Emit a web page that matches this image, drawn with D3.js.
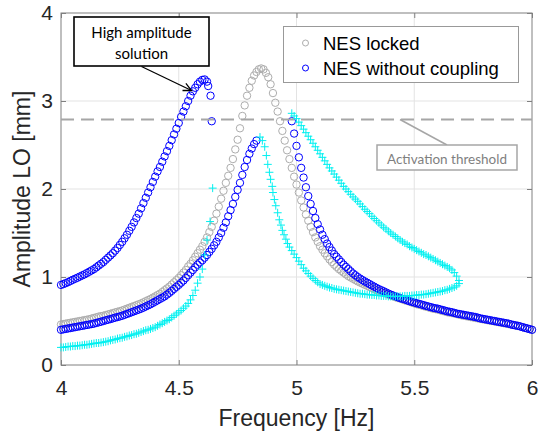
<!DOCTYPE html>
<html>
<head>
<meta charset="utf-8">
<script src="https://cdn.jsdelivr.net/npm/d3@7"></script>
<style>
  html, body { margin: 0; padding: 0; background: #fff; }
  svg { display: block; }
</style>
</head>
<body>
<svg id="chart" width="540" height="437"></svg>
<script>
// ---------------- DATA ----------------
const xTicks = [4, 4.5, 5, 5.5, 6];
const yTicks = [0, 1, 2, 3, 4];
const xLabel = "Frequency [Hz]";
const yLabel = "Amplitude LO [mm]";
const legendLabels = ["NES locked", "NES without coupling"];
const thresholdValue = 2.79;
const thresholdLabel = "Activation threshold";
const calloutLines = ["High amplitude", "solution"];

// NES locked (grey circles)  [frequency, amplitude]
const nesLocked = [
[4.00,.46],[4.01,.465],[4.02,.47],[4.03,.475],[4.04,.48],[4.05,.485],[4.06,.49],[4.07,.495],[4.08,.50],[4.09,.505],
[4.10,.51],[4.11,.515],[4.12,.52],[4.13,.528],[4.14,.535],[4.15,.542],[4.16,.55],[4.17,.555],[4.18,.56],[4.19,.568],
[4.20,.575],[4.21,.582],[4.22,.59],[4.23,.598],[4.24,.605],[4.25,.612],[4.26,.62],[4.27,.63],[4.28,.64],[4.29,.65],
[4.30,.66],[4.31,.67],[4.32,.68],[4.33,.69],[4.34,.70],[4.35,.712],[4.36,.725],[4.37,.738],[4.38,.75],[4.39,.765],
[4.40,.78],[4.41,.795],[4.42,.81],[4.43,.83],[4.44,.85],[4.45,.87],[4.46,.89],[4.47,.915],[4.48,.94],[4.49,.965],
[4.50,.99],[4.51,1.02],[4.52,1.05],[4.53,1.08],[4.54,1.12],[4.55,1.15],[4.56,1.19],[4.57,1.23],[4.58,1.27],[4.59,1.31],
[4.60,1.35],[4.61,1.40],[4.62,1.45],[4.63,1.51],[4.64,1.57],[4.65,1.64],[4.66,1.72],[4.67,1.80],[4.68,1.89],[4.69,1.98],
[4.70,2.07],[4.71,2.15],[4.72,2.24],[4.73,2.34],[4.74,2.45],[4.75,2.56],[4.76,2.69],[4.77,2.83],[4.78,2.95],[4.79,3.06],
[4.80,3.15],[4.81,3.23],[4.82,3.29],[4.83,3.33],[4.84,3.36],[4.85,3.37],[4.86,3.36],[4.87,3.32],[4.88,3.27],[4.89,3.19],
[4.90,3.09],[4.91,2.98],[4.92,2.88],[4.93,2.77],[4.94,2.66],[4.95,2.55],[4.96,2.44],[4.97,2.34],[4.98,2.24],[4.99,2.14],
[5.00,2.05],[5.01,1.96],[5.02,1.87],[5.03,1.79],[5.04,1.71],[5.05,1.64],[5.06,1.57],[5.07,1.51],[5.08,1.45],[5.09,1.40],
[5.10,1.35],[5.11,1.31],[5.12,1.27],[5.13,1.235],[5.14,1.20],[5.15,1.17],[5.16,1.14],[5.17,1.115],[5.18,1.09],[5.19,1.07],
[5.20,1.05],[5.21,1.03],[5.22,1.01],[5.23,.995],[5.24,.98],[5.25,.965],[5.26,.95],[5.27,.937],[5.28,.925],[5.29,.912],
[5.30,.90],[5.31,.887],[5.32,.875],[5.33,.862],[5.34,.85],[5.35,.84],[5.36,.83],[5.37,.82],[5.38,.81],[5.39,.80],
[5.40,.79],[5.41,.78],[5.42,.77],[5.43,.762],[5.44,.755],[5.45,.745],[5.46,.735],[5.47,.728],[5.48,.72],[5.49,.71],
[5.50,.70],[5.51,.692],[5.52,.685],[5.53,.678],[5.54,.67],[5.55,.662],[5.56,.655],[5.57,.648],[5.58,.64],[5.59,.635],
[5.60,.63],[5.61,.622],[5.62,.615],[5.63,.608],[5.64,.60],[5.65,.595],[5.66,.59],[5.67,.585],[5.68,.58],[5.69,.572],
[5.70,.565],[5.71,.56],[5.72,.555],[5.73,.55],[5.74,.545],[5.75,.54],[5.76,.535],[5.77,.53],[5.78,.525],[5.79,.52],
[5.80,.515],[5.81,.51],[5.82,.505],[5.83,.50],[5.84,.495],[5.85,.49],[5.86,.485],[5.87,.48],[5.88,.475],[5.89,.47],
[5.90,.465],[5.91,.46],[5.92,.455],[5.93,.45],[5.94,.445],[5.95,.438],[5.96,.43],[5.97,.422],[5.98,.415],[5.99,.408],[6.00,.40]
];

// NES without coupling (blue circles) - high amplitude branch
const nesFreeHigh = [
[4.00,.91],[4.01,.92],[4.02,.93],[4.03,.942],[4.04,.955],[4.05,.968],[4.06,.98],[4.07,.992],[4.08,1.005],[4.09,1.018],
[4.10,1.03],[4.11,1.045],[4.12,1.06],[4.13,1.075],[4.14,1.09],[4.15,1.11],[4.16,1.13],[4.17,1.15],[4.18,1.17],[4.19,1.195],
[4.20,1.22],[4.21,1.245],[4.22,1.27],[4.23,1.30],[4.24,1.33],[4.25,1.365],[4.26,1.40],[4.27,1.44],[4.28,1.48],[4.29,1.525],
[4.30,1.57],[4.31,1.62],[4.32,1.67],[4.33,1.72],[4.34,1.78],[4.35,1.84],[4.36,1.90],[4.37,1.96],[4.38,2.02],[4.39,2.08],
[4.40,2.14],[4.41,2.20],[4.42,2.25],[4.43,2.31],[4.44,2.37],[4.45,2.43],[4.46,2.49],[4.47,2.555],[4.48,2.62],[4.49,2.685],
[4.50,2.75],[4.51,2.82],[4.52,2.88],[4.53,2.94],[4.54,3.00],[4.55,3.06],[4.56,3.11],[4.57,3.15],[4.58,3.19],[4.59,3.22],
[4.60,3.24],[4.61,3.245],[4.62,3.22],[4.625,3.17],[4.635,3.06],[4.64,2.77]
];
// NES without coupling - low branch (rising)
const nesFreeLow = [
[4.00,.40],[4.01,.405],[4.02,.41],[4.03,.415],[4.04,.42],[4.05,.425],[4.06,.43],[4.07,.435],[4.08,.44],[4.09,.445],
[4.10,.45],[4.11,.455],[4.12,.46],[4.13,.465],[4.14,.47],[4.15,.478],[4.16,.485],[4.17,.492],[4.18,.50],[4.19,.508],
[4.20,.515],[4.21,.522],[4.22,.53],[4.23,.538],[4.24,.545],[4.25,.552],[4.26,.56],[4.27,.57],[4.28,.58],[4.29,.59],
[4.30,.60],[4.31,.61],[4.32,.62],[4.33,.63],[4.34,.64],[4.35,.652],[4.36,.665],[4.37,.678],[4.38,.69],[4.39,.705],
[4.40,.72],[4.41,.735],[4.42,.75],[4.43,.765],[4.44,.78],[4.45,.80],[4.46,.82],[4.47,.842],[4.48,.865],[4.49,.888],
[4.50,.91],[4.51,.935],[4.52,.96],[4.53,.99],[4.54,1.02],[4.55,1.05],[4.56,1.08],[4.57,1.11],[4.58,1.14],[4.59,1.165],
[4.60,1.19],[4.61,1.22],[4.62,1.25],[4.63,1.285],[4.64,1.32],[4.65,1.36],[4.66,1.40],[4.67,1.45],[4.68,1.50],[4.69,1.56],
[4.70,1.62],[4.71,1.69],[4.72,1.76],[4.73,1.83],[4.74,1.91],[4.75,1.99],[4.76,2.07],[4.77,2.16],[4.78,2.25],[4.79,2.33],
[4.80,2.40],[4.81,2.46],[4.82,2.51],[4.83,2.55]
];
// NES without coupling - right (descending) branch
const nesFreeRight = [
[4.98,2.77],[4.99,2.63],[5.00,2.49],[5.01,2.36],[5.02,2.24],[5.03,2.13],[5.04,2.02],[5.05,1.92],[5.06,1.83],[5.07,1.75],
[5.08,1.67],[5.09,1.60],[5.10,1.54],[5.11,1.48],[5.12,1.43],[5.13,1.38],[5.14,1.34],[5.15,1.30],[5.16,1.26],[5.17,1.23],
[5.18,1.20],[5.19,1.17],[5.20,1.14],[5.21,1.115],[5.22,1.09],[5.23,1.065],[5.24,1.04],[5.25,1.02],[5.26,1.00],[5.27,.982],
[5.28,.965],[5.29,.95],[5.30,.935],[5.31,.92],[5.32,.905],[5.33,.89],[5.34,.875],[5.35,.862],[5.36,.85],[5.37,.838],
[5.38,.825],[5.39,.812],[5.40,.80],[5.41,.79],[5.42,.78],[5.43,.77],[5.44,.76],[5.45,.752],[5.46,.745],[5.47,.735],
[5.48,.725],[5.49,.718],[5.50,.71],[5.51,.702],[5.52,.695],[5.53,.688],[5.54,.68],[5.55,.672],[5.56,.665],[5.57,.658],
[5.58,.65],[5.59,.645],[5.60,.64],[5.61,.632],[5.62,.625],[5.63,.618],[5.64,.61],[5.65,.605],[5.66,.60],[5.67,.592],
[5.68,.585],[5.69,.58],[5.70,.575],[5.71,.57],[5.72,.565],[5.73,.56],[5.74,.555],[5.75,.55],[5.76,.545],[5.77,.538],
[5.78,.53],[5.79,.525],[5.80,.52],[5.81,.515],[5.82,.51],[5.83,.505],[5.84,.50],[5.85,.495],[5.86,.49],[5.87,.485],
[5.88,.48],[5.89,.475],[5.90,.47],[5.91,.462],[5.92,.455],[5.93,.45],[5.94,.445],[5.95,.438],[5.96,.43],[5.97,.422],
[5.98,.415],[5.99,.408],[6.00,.40]
];

// Coupled NES (cyan '+') - rising low branch
const nesCoupledRise = [
[4.00,.20],[4.01,.20],[4.02,.205],[4.03,.21],[4.04,.21],[4.05,.215],[4.06,.215],[4.07,.22],[4.08,.22],[4.09,.225],
[4.10,.23],[4.11,.23],[4.12,.235],[4.13,.24],[4.14,.245],[4.15,.25],[4.16,.25],[4.17,.255],[4.18,.26],[4.19,.265],
[4.20,.27],[4.21,.28],[4.22,.285],[4.23,.29],[4.24,.30],[4.25,.305],[4.26,.31],[4.27,.32],[4.28,.325],[4.29,.335],
[4.30,.34],[4.31,.35],[4.32,.355],[4.33,.365],[4.34,.375],[4.35,.385],[4.36,.395],[4.37,.40],[4.38,.41],[4.39,.42],
[4.40,.43],[4.41,.445],[4.42,.46],[4.43,.475],[4.44,.49],[4.45,.505],[4.46,.52],[4.47,.54],[4.48,.56],[4.49,.58],
[4.50,.60],[4.51,.62],[4.52,.645],[4.53,.67],[4.54,.70],[4.55,.74],[4.56,.79],[4.57,.85],[4.58,.93],[4.59,1.00],
[4.60,1.09],[4.61,1.25],[4.62,1.42],[4.633,1.63],[4.644,2.01]
];
// Coupled NES - drop after the peak and lower part of the loop
const nesCoupledDrop = [
[4.845,2.59],[4.855,2.55],[4.865,2.48],[4.872,2.38],[4.878,2.28],[4.885,2.19],[4.89,2.11],[4.897,2.03],[4.90,1.96],[4.906,1.88],
[4.912,1.81],[4.92,1.73],[4.927,1.65],[4.934,1.59],[4.94,1.53],[4.947,1.48],[4.955,1.43],[4.962,1.38],[4.97,1.34],[4.98,1.30],
[4.99,1.26],[5.00,1.22],[5.01,1.18],[5.02,1.14],[5.03,1.10],[5.04,1.07],[5.05,1.04],[5.06,1.01],[5.07,.985],[5.08,.96],
[5.09,.94],[5.10,.92],[5.11,.91],[5.12,.90],[5.13,.89],[5.14,.88],[5.15,.875],[5.16,.865],[5.17,.86],[5.18,.855],
[5.19,.85],[5.20,.845],[5.21,.84],[5.22,.835],[5.23,.83],[5.24,.825],[5.25,.82],[5.26,.815],[5.27,.81],[5.28,.81],
[5.29,.805],[5.30,.80],[5.31,.80],[5.32,.795],[5.33,.795],[5.34,.79],[5.35,.79],[5.36,.785],[5.37,.785],[5.38,.785],
[5.39,.78],[5.40,.78],[5.41,.78],[5.42,.78],[5.43,.78],[5.44,.78],[5.45,.78],[5.46,.785],[5.47,.785],[5.48,.785],
[5.49,.79],[5.50,.79],[5.51,.795],[5.52,.795],[5.53,.80],[5.54,.80],[5.55,.805],[5.56,.81],[5.57,.815],[5.58,.82],
[5.59,.825],[5.60,.83],[5.61,.835],[5.62,.84],[5.63,.85],[5.64,.855],[5.65,.865],[5.66,.875],[5.67,.885],[5.68,.90],[5.69,.925]
];
// Coupled NES - upper part of the loop (back towards 4.98 Hz)
const nesCoupledUpper = [
[5.69,.96],[5.68,1.01],[5.67,1.05],[5.66,1.08],[5.65,1.10],[5.64,1.115],[5.63,1.13],[5.62,1.145],[5.61,1.16],[5.60,1.175],
[5.59,1.19],[5.58,1.205],[5.57,1.22],[5.56,1.235],[5.55,1.25],[5.54,1.26],[5.53,1.275],[5.52,1.29],[5.51,1.305],[5.50,1.32],
[5.49,1.335],[5.48,1.35],[5.47,1.37],[5.46,1.385],[5.45,1.40],[5.44,1.42],[5.43,1.44],[5.42,1.46],[5.41,1.48],[5.40,1.50],
[5.39,1.52],[5.38,1.545],[5.37,1.565],[5.36,1.59],[5.35,1.615],[5.34,1.64],[5.33,1.665],[5.32,1.69],[5.31,1.72],[5.30,1.745],
[5.29,1.77],[5.28,1.80],[5.27,1.83],[5.26,1.86],[5.25,1.885],[5.24,1.91],[5.23,1.94],[5.22,1.97],[5.21,2.00],[5.20,2.03],
[5.19,2.065],[5.18,2.10],[5.17,2.135],[5.16,2.17],[5.15,2.205],[5.14,2.24],[5.13,2.28],[5.12,2.32],[5.11,2.36],[5.10,2.40],
[5.09,2.44],[5.08,2.48],[5.07,2.52],[5.06,2.56],[5.05,2.60],[5.04,2.64],[5.03,2.68],[5.02,2.72],[5.01,2.76],[5.00,2.80],
[4.99,2.83],[4.98,2.86]
];

// ---------------- CHART ----------------
const svg = d3.select("#chart");
const W = 540, H = 437;
const m = {left: 61, right: 532, top: 13, bottom: 365};
const x = d3.scaleLinear().domain([4, 6]).range([m.left, m.right]);
const y = d3.scaleLinear().domain([0, 4]).range([m.bottom, m.top]);

const axisColor = "#808080";
const textColor = "#262626";
const fontMain = "'Liberation Sans', Arial, Helvetica, sans-serif";
const fontNote = "Lato, 'Open Sans', sans-serif";

svg.append("rect").attr("width", W).attr("height", H).attr("fill", "#fff");

// grid
const grid = svg.append("g");
grid.selectAll("line.gx").data(xTicks.slice(1, -1)).join("line")
  .attr("x1", d => x(d)).attr("x2", d => x(d)).attr("y1", m.top).attr("y2", m.bottom)
  .attr("stroke", "#e3e3e3").attr("stroke-width", 1);
grid.selectAll("line.gy").data(yTicks.slice(1, -1)).join("line")
  .attr("y1", d => y(d)).attr("y2", d => y(d)).attr("x1", m.left).attr("x2", m.right)
  .attr("stroke", "#e3e3e3").attr("stroke-width", 1);

// axes
function styleAxis(g) {
  g.select(".domain").remove();
  g.selectAll(".tick line").attr("stroke", axisColor);
  g.selectAll(".tick text").attr("fill", textColor).attr("font-family", fontMain).attr("font-size", 21);
}
svg.append("g").attr("transform", `translate(0,${m.bottom})`)
  .call(d3.axisBottom(x).tickValues(xTicks).tickSize(-5).tickPadding(15).tickFormat(d3.format("")))
  .call(styleAxis);
svg.append("g").attr("transform", `translate(0,${m.top})`)
  .call(d3.axisTop(x).tickValues(xTicks).tickSize(-5).tickFormat(""))
  .call(styleAxis);
svg.append("g").attr("transform", `translate(${m.left},0)`)
  .call(d3.axisLeft(y).tickValues(yTicks).tickSize(-5).tickPadding(8).tickFormat(d3.format("")))
  .call(styleAxis);
svg.append("g").attr("transform", `translate(${m.right},0)`)
  .call(d3.axisRight(y).tickValues(yTicks).tickSize(-5).tickFormat(""))
  .call(styleAxis);

// box
svg.append("rect").attr("x", m.left).attr("y", m.top)
  .attr("width", m.right - m.left).attr("height", m.bottom - m.top)
  .attr("fill", "none").attr("stroke", axisColor).attr("stroke-width", 1);

// data
const R = 3.7;
function circles(data, color) {
  svg.append("g").selectAll("circle").data(data).join("circle")
    .attr("cx", d => x(d[0])).attr("cy", d => y(d[1])).attr("r", R)
    .attr("fill", "none").attr("stroke", color).attr("stroke-width", 1);
}
function pluses(data, color) {
  svg.append("g").selectAll("path").data(data).join("path")
    .attr("transform", d => `translate(${x(d[0])},${y(d[1])})`)
    .attr("d", "M-4,0H4M0,-4V4")
    .attr("fill", "none").attr("stroke", color).attr("stroke-width", 1);
}
const grey = "#adadad", blue = "#0000ff", cyan = "#00f0f0";
circles(nesLocked, grey);
circles(nesFreeLow, blue);
circles(nesFreeHigh, blue);
circles(nesFreeRight, blue);
pluses(nesCoupledRise, cyan);
pluses(nesCoupledDrop, cyan);
pluses(nesCoupledUpper, cyan);

// threshold
svg.append("line").attr("x1", m.left).attr("x2", m.right)
  .attr("y1", y(thresholdValue)).attr("y2", y(thresholdValue))
  .attr("stroke", "#a6a6a6").attr("stroke-width", 2).attr("stroke-dasharray", "13,7");

// threshold annotation
svg.append("line").attr("x1", 400).attr("y1", y(thresholdValue)).attr("x2", 447).attr("y2", 145)
  .attr("stroke", "#a6a6a6").attr("stroke-width", 1.5);
svg.append("rect").attr("x", 377).attr("y", 145).attr("width", 140).attr("height", 25)
  .attr("fill", "#fff").attr("stroke", "#a6a6a6").attr("stroke-width", 1.5);
svg.append("text").attr("x", 447).attr("y", 163.5).attr("text-anchor", "middle")
  .attr("font-family", fontNote).attr("font-size", 13.5).attr("fill", "#7f7f7f").text(thresholdLabel);

// high amplitude callout
svg.append("rect").attr("x", 74).attr("y", 17).attr("width", 135).attr("height", 49)
  .attr("fill", "#fff").attr("stroke", "#000").attr("stroke-width", 1.6);
svg.selectAll("text.call").data(calloutLines).join("text")
  .attr("x", 141.5).attr("y", (d, i) => 38 + i * 21).attr("text-anchor", "middle")
  .attr("font-family", fontNote).attr("font-size", 15).attr("fill", "#000").text(d => d);
const ax0 = 141.5, ay0 = 66.5, ax1 = 191.5, ay1 = 90.5;
svg.append("line").attr("x1", ax0).attr("y1", ay0).attr("x2", ax1).attr("y2", ay1)
  .attr("stroke", "#000").attr("stroke-width", 1.3);
const ang = Math.atan2(ay1 - ay0, ax1 - ax0), hl = 9;
svg.append("path")
  .attr("d", `M${ax1 - hl * Math.cos(ang - 0.45)},${ay1 - hl * Math.sin(ang - 0.45)}L${ax1},${ay1}L${ax1 - hl * Math.cos(ang + 0.45)},${ay1 - hl * Math.sin(ang + 0.45)}`)
  .attr("fill", "none").attr("stroke", "#000").attr("stroke-width", 1.3);

// legend
const lg = svg.append("g");
lg.append("rect").attr("x", 283.5).attr("y", 26.5).attr("width", 235).attr("height", 56)
  .attr("fill", "#fff").attr("stroke", "#999").attr("stroke-width", 1);
const legendColors = [grey, blue];
legendLabels.forEach((lab, i) => {
  const cy = 43 + i * 25;
  lg.append("circle").attr("cx", 305.5).attr("cy", cy).attr("r", 3)
    .attr("fill", "none").attr("stroke", legendColors[i]).attr("stroke-width", 1);
  lg.append("text").attr("x", 323).attr("y", cy + 6.5)
    .attr("font-family", fontMain).attr("font-size", 18.5).attr("fill", "#000").text(lab);
});

// axis labels
svg.append("text").attr("x", (m.left + m.right) / 2).attr("y", 426).attr("text-anchor", "middle")
  .attr("font-family", fontMain).attr("font-size", 23).attr("fill", textColor).text(xLabel);
svg.append("text").attr("transform", `translate(30,${(m.top + m.bottom) / 2}) rotate(-90)`)
  .attr("text-anchor", "middle")
  .attr("font-family", fontMain).attr("font-size", 23).attr("fill", textColor).text(yLabel);
</script>
</body>
</html>
